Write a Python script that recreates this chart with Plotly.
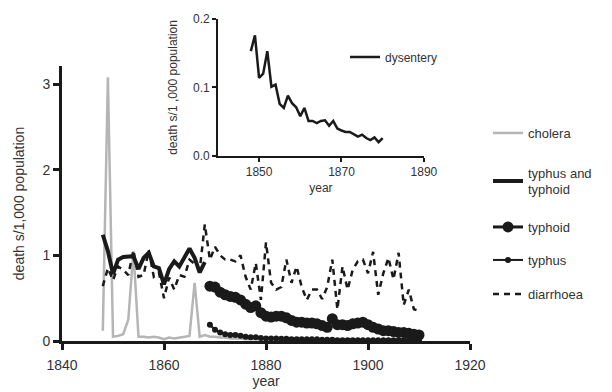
import plotly.graph_objects as go

# ---------------- data ----------------
cholera_years = list(range(1848, 1901))
cholera_vals = [0.12, 3.08, 0.05, 0.06, 0.08, 0.25, 1.05, 0.05, 0.05, 0.04, 0.05, 0.04, 0.02,
                0.04, 0.03, 0.04, 0.05, 0.06, 0.68, 0.05, 0.07, 0.05, 0.05, 0.04, 0.04, 0.03,
                0.03, 0.03, 0.02, 0.02, 0.02, 0.02, 0.01, 0.01, 0.01, 0.01, 0.01, 0.01, 0.01,
                0.01, 0.01, 0.01, 0.01, 0.01, 0.01, 0.02, 0.02, 0.02, 0.02, 0.02, 0.02, 0.02, 0.01]

tt_years = list(range(1848, 1869))
tt_vals = [1.24, 1.05, 0.78, 0.95, 0.98, 0.98, 0.99, 0.84, 0.97, 1.03, 0.87, 0.85, 0.66,
           0.84, 0.93, 0.87, 0.97, 1.08, 0.97, 0.80, 0.92]

typhoid_years = list(range(1869, 1911))
typhoid_vals = [0.64, 0.63, 0.57, 0.54, 0.52, 0.51, 0.48, 0.43, 0.39, 0.41, 0.33, 0.29,
                0.28, 0.29, 0.29, 0.27, 0.24, 0.22, 0.22, 0.21, 0.21, 0.20, 0.18, 0.16,
                0.26, 0.19, 0.19, 0.18, 0.20, 0.21, 0.22, 0.19, 0.16, 0.14, 0.12, 0.12,
                0.11, 0.10, 0.10, 0.09, 0.08, 0.07]

typhus_years = list(range(1869, 1911))
typhus_vals = [0.19, 0.13, 0.10, 0.08, 0.07, 0.07, 0.06, 0.05, 0.045, 0.045, 0.035, 0.03,
               0.03, 0.03, 0.025, 0.025, 0.02, 0.02, 0.02, 0.02, 0.02, 0.02, 0.015, 0.015,
               0.015, 0.01, 0.01, 0.01, 0.01, 0.01, 0.01, 0.01, 0.01, 0.01, 0.01, 0.01,
               0.01, 0.01, 0.01, 0.01, 0.01, 0.01]

diar_years = list(range(1848, 1911))
diar_vals = [0.64, 0.85, 0.71, 0.87, 0.83, 0.77, 1.06, 0.75, 0.77, 1.06, 0.75, 0.80, 0.50,
             0.74, 0.60, 0.77, 0.75, 0.95, 0.90, 0.83, 1.36, 0.95, 1.10, 1.00, 0.95, 0.95,
             0.93, 1.00, 0.75, 0.60, 0.91, 0.48, 1.15, 0.68, 0.60, 0.63, 0.95, 0.68, 0.87,
             0.63, 0.48, 0.60, 0.60, 0.49, 0.63, 0.95, 0.37, 0.87, 0.60, 0.83, 0.93, 0.95,
             0.79, 1.04, 0.54, 0.79, 0.97, 0.72, 1.03, 0.42, 0.60, 0.37, 0.35]

dys_years = list(range(1848, 1881))
dys_vals = [0.153, 0.176, 0.114, 0.120, 0.153, 0.101, 0.104, 0.076, 0.070, 0.088, 0.077,
            0.071, 0.058, 0.070, 0.051, 0.051, 0.048, 0.051, 0.052, 0.044, 0.051, 0.040,
            0.037, 0.035, 0.035, 0.032, 0.028, 0.031, 0.026, 0.023, 0.027, 0.020, 0.026]

main_xticks = [1840, 1860, 1880, 1900, 1920]
main_yticks = [0, 1, 2, 3]
inset_xticks = [1850, 1870, 1890]
inset_yticks = [0.0, 0.1, 0.2]

BLACK = "#1a1a1a"
GREY = "#b5b5b5"
TXT = "#333333"
FONT = "Liberation Sans, Arial, sans-serif"

fig = go.Figure()
fig.add_trace(go.Scatter(x=cholera_years, y=cholera_vals, mode="lines", name="cholera",
                         line=dict(color=GREY, width=2.5), legend="legend"))
fig.add_trace(go.Scatter(x=tt_years, y=tt_vals, mode="lines", name="typhus and<br>typhoid",
                         line=dict(color=BLACK, width=4), legend="legend3"))
fig.add_trace(go.Scatter(x=typhoid_years, y=typhoid_vals, mode="lines+markers", name="typhoid",
                         line=dict(color=BLACK, width=3), marker=dict(size=11, color=BLACK),
                         legend="legend4"))
fig.add_trace(go.Scatter(x=typhus_years, y=typhus_vals, mode="lines+markers", name="typhus",
                         line=dict(color=BLACK, width=2), marker=dict(size=6, color=BLACK),
                         legend="legend5"))
fig.add_trace(go.Scatter(x=diar_years, y=diar_vals, mode="lines", name="diarrhoea",
                         line=dict(color=BLACK, width=2.5, dash="6px,5px"), legend="legend6"))
fig.add_trace(go.Scatter(x=dys_years, y=dys_vals, mode="lines", name="dysentery",
                         line=dict(color=BLACK, width=2.5), xaxis="x2", yaxis="y2",
                         legend="legend2"))

axis_common = dict(showgrid=False, zeroline=False, showline=True, linecolor=BLACK,
                   ticks="outside", tickcolor=BLACK, automargin=False,
                   tickfont=dict(color=TXT, family=FONT))

# paper coords: plot area is 408 x 322 px (x from 62, y bottom at 341)
def py(pix):
    return (341 - pix) / 322.0

def px(pix):
    return (pix - 62) / 408.0

leg_common = dict(xanchor="left", yanchor="middle", font=dict(size=13, color=TXT),
                  itemwidth=30, bgcolor="rgba(0,0,0,0)")

fig.update_layout(
    width=612, height=392,
    margin=dict(l=62, r=142, t=19, b=51, autoexpand=False),
    paper_bgcolor="white", plot_bgcolor="rgba(0,0,0,0)",
    font=dict(family=FONT, color=TXT),
    xaxis=dict(**axis_common, domain=[0, 1], range=[1840, 1920], tickvals=main_xticks,
               linewidth=3, tickwidth=3, ticklen=6, tickfont_size=14, anchor="y",
               ticklabelstandoff=3,
               title=dict(text="year", font=dict(size=14, color=TXT), standoff=5)),
    yaxis=dict(**axis_common, domain=[0, 0.854], range=[0, 3.21], tickvals=main_yticks,
               linewidth=3, tickwidth=3, ticklen=6, tickfont_size=14, anchor="x",
               title=dict(text="death s/1,000 population", font=dict(size=14, color=TXT),
                          standoff=15)),
    xaxis2=dict(**axis_common, domain=[0.382, 0.887], range=[1840, 1890],
                tickvals=inset_xticks, linewidth=1.5, tickwidth=1.5, ticklen=4,
                tickfont_size=12, anchor="y2",
                title=dict(text="year", font=dict(size=12, color=TXT), standoff=6)),
    yaxis2=dict(**axis_common, domain=[0.575, 1.0], range=[0, 0.2], tickvals=inset_yticks,
                tickformat=".1f", linewidth=1.5, tickwidth=1.5, ticklen=4,
                tickfont_size=12, anchor="x2",
                title=dict(text="death s/1 ,000 population", font=dict(size=12, color=TXT),
                           standoff=13)),
    legend=dict(x=px(488), y=py(133), **leg_common),
    legend3=dict(x=px(488), y=py(181), **leg_common),
    legend4=dict(x=px(488), y=py(227), **leg_common),
    legend5=dict(x=px(488), y=py(260), **leg_common),
    legend6=dict(x=px(488), y=py(294), **leg_common),
    legend2=dict(x=px(345), y=py(57), xanchor="left", yanchor="middle",
                 font=dict(size=12, color=TXT), itemwidth=30, bgcolor="rgba(0,0,0,0)"),
    showlegend=True,
)

fig.write_html("out.html", config={"displayModeBar": False},
               post_script="document.body.style.margin='0px';document.body.style.padding='0px';")
